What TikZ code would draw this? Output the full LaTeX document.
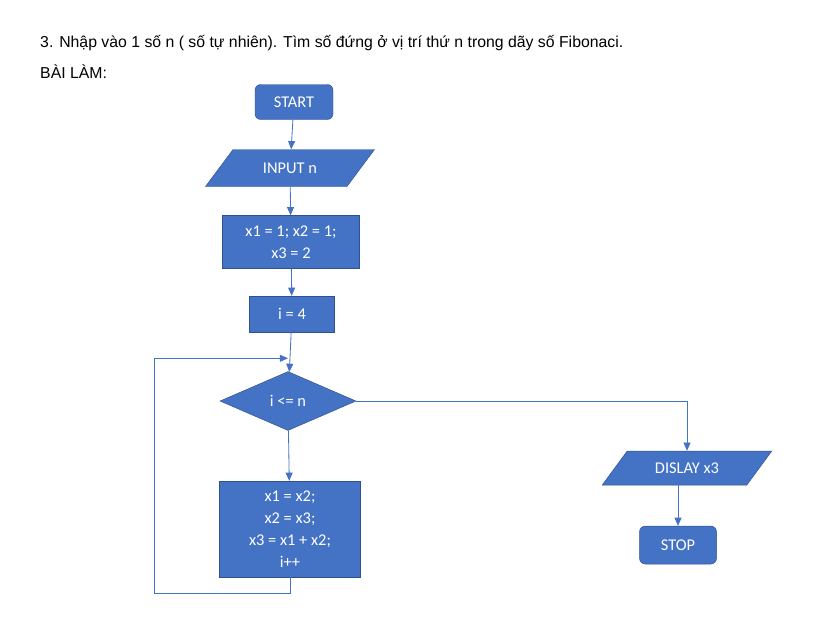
\documentclass[tikz,border=0pt]{standalone}
\usepackage{fontspec}
\setmainfont{Carlito}
\newfontfamily\headfont{Liberation Sans}
\usetikzlibrary{shapes.geometric, positioning, arrows.meta}

\definecolor{boxblue}{HTML}{4472C4}
\definecolor{edgeblue}{HTML}{2F528F}

\tikzset{
    block/.style={rectangle, draw=edgeblue, fill=boxblue, text=white, align=center,
        font=\fontsize{14}{18.8}\selectfont},
    term/.style={block, rounded corners=5pt},
    io/.style={block, trapezium, trapezium left angle=51, trapezium right angle=129,
        trapezium stretches=true},
    decision/.style={block, diamond, inner sep=0pt},
    flow/.style={draw=boxblue, line width=0.7pt, ->},
    heading/.style={anchor=base west, inner sep=0pt, font=\headfont\fontsize{13.5}{16}\selectfont}
}

\begin{document}
\begin{tikzpicture}[x=0.03cm, y=-0.03cm, on grid, >={Triangle[length=7pt, width=6pt]}]
    \useasboundingbox (0,0) rectangle (813,633);

    \node[heading] (task) at (40,47) {3. Nhập vào 1 số n ( số tự nhiên). Tìm số đứng ở vị trí thứ n trong dãy số Fibonaci.};
    \node[heading] (work) at (40,78) {BÀI LÀM:};

    \node[term, minimum width=2.34cm, minimum height=1.05cm] (start) at (294,102) {START};
    \node[io, minimum width=5.1cm, minimum height=1.11cm] (input) [below=1.98cm of start, xshift=-0.12cm] {INPUT n};
    \node[block, minimum width=4.11cm, minimum height=1.59cm] (init) [below=2.22cm of input, xshift=0.03cm] {x1 = 1; x2 = 1;\\ x3 = 2};
    \node[block, minimum width=2.55cm, minimum height=1.08cm] (count) [below=2.16cm of init, xshift=0.03cm] {i = 4};
    \node[decision, minimum width=4.08cm, minimum height=1.77cm] (test) [below=2.61cm of count, xshift=-0.12cm] {i <= n};
    \node[block, minimum width=4.23cm, minimum height=2.88cm] (body) [below=3.84cm of test, xshift=0.06cm] {x1 = x2;\\ x2 = x3;\\ x3 = x1 + x2;\\ i++};
    \node[io, minimum width=5.13cm, minimum height=1.02cm] (output) [below right=2.01cm and 11.97cm of test] {DISLAY x3};
    \node[term, minimum width=2.31cm, minimum height=1.14cm] (stop) [below=2.31cm of output, xshift=-0.27cm] {STOP};

    \coordinate[above=0.39cm of test.north] (merge);

    \path[flow] (start) -- (input);
    \path[flow] (input) -- (init);
    \path[flow] (init) -- (count);
    \path[flow] (count) -- (test);
    \path[flow] (test) -- (body);
    \path[flow] (body.south) -- ++(0,16) -- ++(-136,0) |- (merge);
    \path[flow] (test.east) -| (output.north);
    \path[flow] (stop.north |- output.south) -- (stop);
\end{tikzpicture}
\end{document}
